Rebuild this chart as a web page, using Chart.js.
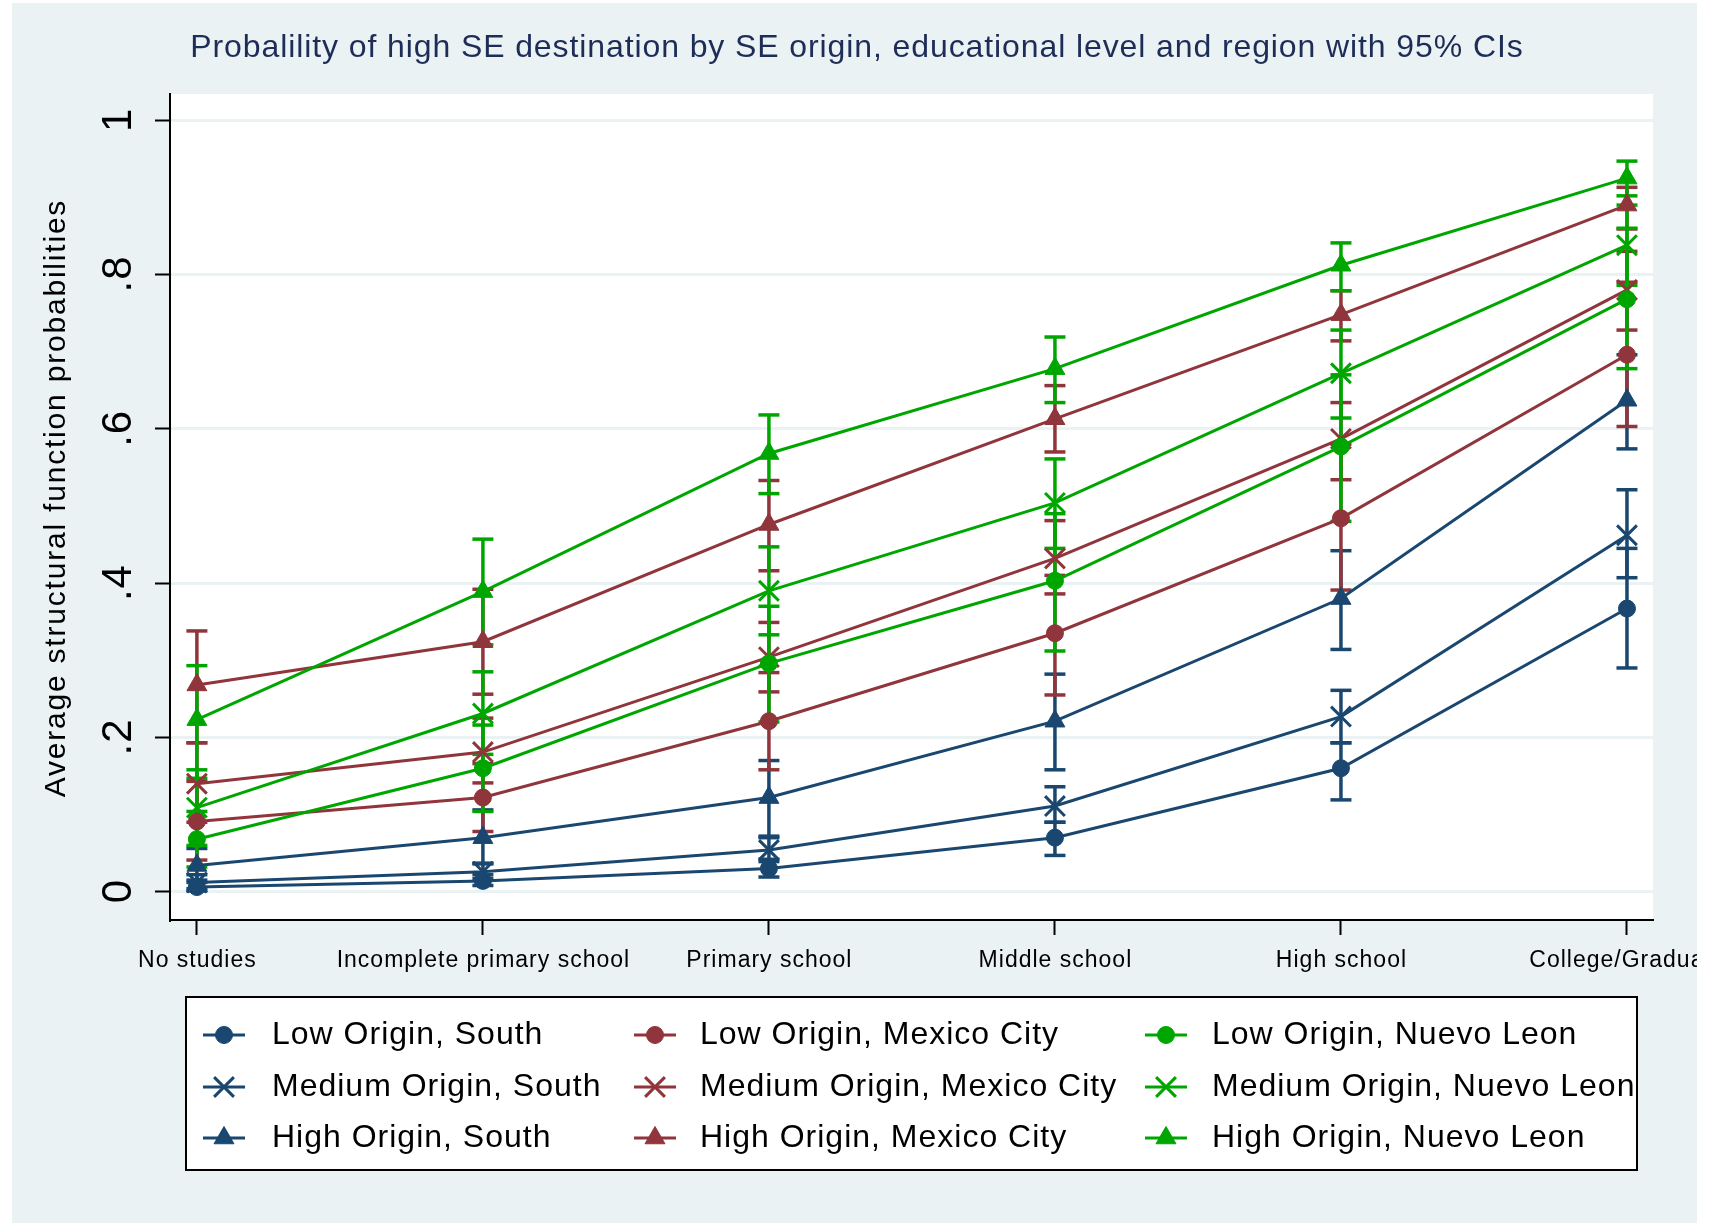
<!DOCTYPE html>
<html>
<head>
<meta charset="utf-8">
<title>Probalility of high SE destination</title>
<script src="https://cdn.jsdelivr.net/npm/chart.js@4.4.1/dist/chart.umd.min.js"></script>
<style>
  html, body { margin: 0; padding: 0; background: #ffffff; overflow: hidden; }
  #wrap { position: absolute; left: 12px; top: 3px; width: 1685px; height: 1220px; }
</style>
</head>
<body>
<div id="wrap"><canvas id="chart" width="1685" height="1220"></canvas></div>
<script>
// categories on the x axis
const categories = ['No studies', 'Incomplete primary school', 'Primary school',
                    'Middle school', 'High school', 'College/Graduate'];
const yTicks = [0, 0.2, 0.4, 0.6, 0.8, 1];
const yTickLabels = ['0', '.2', '.4', '.6', '.8', '1'];

// legend order (Stata fills the legend column by column)
const seriesNames = [
  'Low Origin, South', 'Medium Origin, South', 'High Origin, South',
  'Low Origin, Mexico City', 'Medium Origin, Mexico City', 'High Origin, Mexico City',
  'Low Origin, Nuevo Leon', 'Medium Origin, Nuevo Leon', 'High Origin, Nuevo Leon'
];

// point estimates
const lowSouth    = [0.006, 0.014, 0.030, 0.070, 0.160, 0.367];
const medSouth    = [0.012, 0.026, 0.054, 0.111, 0.227, 0.462];
const highSouth   = [0.034, 0.070, 0.122, 0.221, 0.380, 0.637];
const lowMexico   = [0.091, 0.122, 0.221, 0.335, 0.484, 0.696];
const medMexico   = [0.140, 0.181, 0.304, 0.432, 0.587, 0.780];
const highMexico  = [0.268, 0.324, 0.476, 0.613, 0.748, 0.890];
const lowNuevo    = [0.068, 0.160, 0.296, 0.403, 0.577, 0.768];
const medNuevo    = [0.109, 0.231, 0.390, 0.504, 0.672, 0.838];
const highNuevo   = [0.223, 0.389, 0.568, 0.678, 0.812, 0.925];

// 95% CI lower / upper bounds
const lowSouthLo   = [0.001, 0.008, 0.019, 0.047, 0.119, 0.290];
const lowSouthHi   = [0.012, 0.022, 0.042, 0.090, 0.193, 0.445];
const medSouthLo   = [0.004, 0.017, 0.039, 0.090, 0.193, 0.407];
const medSouthHi   = [0.022, 0.036, 0.070, 0.136, 0.261, 0.521];
const highSouthLo  = [0.015, 0.037, 0.072, 0.158, 0.314, 0.574];
const highSouthHi  = [0.056, 0.106, 0.170, 0.282, 0.442, 0.696];
const lowMexicoLo  = [0.041, 0.078, 0.158, 0.255, 0.391, 0.603];
const lowMexicoHi  = [0.143, 0.166, 0.284, 0.410, 0.580, 0.790];
const medMexicoLo  = [0.090, 0.141, 0.259, 0.386, 0.534, 0.728];
const medMexicoHi  = [0.193, 0.225, 0.349, 0.481, 0.634, 0.830];
const highMexicoLo = [0.193, 0.256, 0.416, 0.570, 0.714, 0.859];
const highMexicoHi = [0.338, 0.392, 0.533, 0.656, 0.779, 0.913];
const lowNuevoLo   = [0.032, 0.104, 0.220, 0.312, 0.480, 0.678];
const lowNuevoHi   = [0.104, 0.216, 0.370, 0.490, 0.670, 0.860];
const medNuevoLo   = [0.060, 0.178, 0.333, 0.445, 0.614, 0.786];
const medNuevoHi   = [0.158, 0.285, 0.447, 0.561, 0.728, 0.890];
const highNuevoLo  = [0.147, 0.320, 0.516, 0.634, 0.779, 0.902];
const highNuevoHi  = [0.293, 0.457, 0.618, 0.719, 0.841, 0.947];

const estimates = [lowSouth, medSouth, highSouth, lowMexico, medMexico, highMexico, lowNuevo, medNuevo, highNuevo];
const ciLow  = [lowSouthLo, medSouthLo, highSouthLo, lowMexicoLo, medMexicoLo, highMexicoLo, lowNuevoLo, medNuevoLo, highNuevoLo];
const ciHigh = [lowSouthHi, medSouthHi, highSouthHi, lowMexicoHi, medMexicoHi, highMexicoHi, lowNuevoHi, medNuevoHi, highNuevoHi];

// --- styles ---
const FONT = "'Liberation Sans', Arial, Helvetica, sans-serif";
const BG = '#eaf2f3';
const regionColors = ['#1a476f', '#90353b', '#00a600'];   // South, Mexico City, Nuevo Leon
const originMarkers = [
  { pointStyle: 'circle',   radius: 8.5,  borderWidth: 1 },
  { pointStyle: 'crossRot', radius: 14,   borderWidth: 3 },
  { pointStyle: 'triangle', radius: 11.5, borderWidth: 1 }
];

function styleOf(k) {
  return { color: regionColors[Math.floor(k / 3)], marker: originMarkers[k % 3] };
}

// build the datasets: one line per series plus one capped-spike set per series
const datasets = [];
estimates.forEach((vals, k) => {
  const st = styleOf(k);
  datasets.push({
    label: seriesNames[k],
    data: vals.map((v, i) => ({ x: i, y: v })),
    borderColor: st.color,
    backgroundColor: st.color,
    borderWidth: 3,
    pointStyle: st.marker.pointStyle,
    pointRadius: st.marker.radius,
    pointBorderWidth: st.marker.borderWidth,
    pointBackgroundColor: st.color,
    pointBorderColor: st.color,
    tension: 0,
    order: 20 - k
  });
});
ciLow.forEach((lo, k) => {
  const st = styleOf(k);
  const pts = [];
  lo.forEach((v, i) => {
    pts.push({ x: i, y: v }, { x: i, y: ciHigh[k][i] }, { x: i, y: null });
  });
  datasets.push({
    label: seriesNames[k] + ' CI',
    data: pts,
    borderColor: st.color,
    borderWidth: 3.5,
    pointStyle: 'line',
    pointRadius: 10.5,
    pointBorderWidth: 3.5,
    pointBorderColor: st.color,
    spanGaps: false,
    tension: 0,
    order: 40 - k
  });
});

// text helper (Stata text is a bit wider than Arial, so add tracking)
function drawText(ctx, text, x, y, size, opts) {
  opts = opts || {};
  const sp = opts.spacing || 0;
  ctx.save();
  ctx.translate(x, y);
  if (opts.rotate) ctx.rotate(opts.rotate);
  ctx.font = size + 'px ' + FONT;
  if ('letterSpacing' in ctx) ctx.letterSpacing = sp + 'px';
  ctx.fillStyle = opts.color || '#000000';
  ctx.textAlign = opts.align || 'center';
  ctx.textBaseline = 'middle';
  ctx.fillText(text, opts.align === 'left' ? 0 : sp / 2, 0);
  ctx.restore();
}

function drawMarker(ctx, k, x, y) {
  const st = styleOf(k);
  ctx.save();
  ctx.strokeStyle = st.color;
  ctx.fillStyle = st.color;
  ctx.lineWidth = 3;
  ctx.beginPath();
  ctx.moveTo(x - 21, y);
  ctx.lineTo(x + 21, y);
  ctx.stroke();
  ctx.lineWidth = st.marker.borderWidth;
  if (Chart.helpers && Chart.helpers.drawPoint) {
    Chart.helpers.drawPoint(ctx, {
      pointStyle: st.marker.pointStyle, radius: st.marker.radius,
      borderWidth: st.marker.borderWidth, rotation: 0
    }, x, y);
  }
  ctx.restore();
}

const stataFrame = {
  id: 'stataFrame',
  beforeDraw(chart) {
    const { ctx, chartArea: a, width, height } = chart;
    ctx.save();
    ctx.fillStyle = BG;
    ctx.fillRect(0, 0, width, height);
    ctx.fillStyle = '#ffffff';
    ctx.fillRect(a.left, a.top, a.right - a.left, a.bottom - a.top);
    ctx.restore();
  },
  afterDraw(chart) {
    const { ctx } = chart;
    const xs = chart.scales.x, ys = chart.scales.y;

    // title
    drawText(ctx, 'Probalility of high SE destination by SE origin, educational level and region with 95% CIs',
      chart.width / 2 + 2, 45.5, 32, { spacing: 0.9, color: '#1e2d58' });

    // y axis title
    drawText(ctx, 'Average structural function probabilities', 45, 496, 30,
      { spacing: 1.8, rotate: -Math.PI / 2 });

    // y tick labels (rotated as in Stata)
    yTicks.forEach((v, i) => {
      drawText(ctx, yTickLabels[i], 107, ys.getPixelForValue(v), 42,
        { spacing: 1, rotate: -Math.PI / 2 });
    });

    // x tick labels
    categories.forEach((c, i) => {
      drawText(ctx, c, xs.getPixelForValue(i), 958, 23, { spacing: 1 });
    });

    // legend box
    const bx = 174, by = 994, bw = 1451, bh = 173;
    ctx.save();
    ctx.fillStyle = '#ffffff';
    ctx.fillRect(bx, by, bw, bh);
    ctx.strokeStyle = '#000000';
    ctx.lineWidth = 2;
    ctx.strokeRect(bx, by, bw, bh);
    ctx.restore();

    const colMarker = [212, 643, 1154];
    const colText = [260, 688, 1200];
    const rowY = [1032, 1084, 1135];
    seriesNames.forEach((name, k) => {
      const c = Math.floor(k / 3), r = k % 3;
      drawMarker(ctx, k, colMarker[c], rowY[r]);
      drawText(ctx, name, colText[c], rowY[r], 32, { spacing: 1, align: 'left' });
    });
  }
};

new Chart(document.getElementById('chart'), {
  type: 'line',
  data: { datasets: datasets },
  options: {
    responsive: false,
    animation: false,
    devicePixelRatio: 1,
    layout: { padding: { left: 0, right: 44, top: 91, bottom: 243 } },
    plugins: {
      legend: { display: false },
      title: { display: false },
      tooltip: { enabled: false }
    },
    scales: {
      x: {
        type: 'linear',
        min: -0.094,
        max: 5.091,
        afterBuildTicks: s => { s.ticks = categories.map((c, i) => ({ value: i })); },
        ticks: { display: false },
        grid: { drawOnChartArea: false, tickLength: 15, tickWidth: 2, tickColor: '#000000' },
        border: { color: '#000000', width: 2 },
        afterFit: s => { s.height = 60; s.paddingLeft = 0; s.paddingRight = 0; }
      },
      y: {
        type: 'linear',
        min: -0.0367,
        max: 1.034,
        afterBuildTicks: s => { s.ticks = yTicks.map(v => ({ value: v })); },
        ticks: { display: false },
        grid: { color: BG, lineWidth: 3, tickLength: 15, tickWidth: 2, tickColor: '#000000' },
        border: { color: '#000000', width: 2 },
        afterFit: s => { s.width = 158; s.paddingTop = 0; s.paddingBottom = 0; }
      }
    }
  },
  plugins: [stataFrame]
});
</script>
</body>
</html>
